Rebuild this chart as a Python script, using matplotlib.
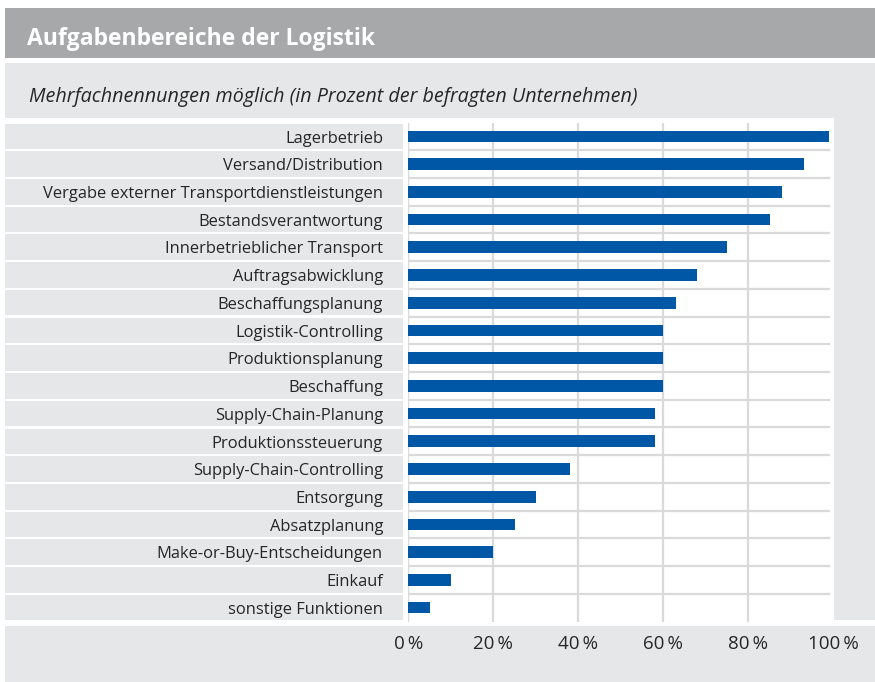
import matplotlib
matplotlib.use("Agg")
import matplotlib.pyplot as plt
import matplotlib.transforms as mtransforms
from matplotlib.patches import Rectangle

categories = ["Lagerbetrieb", "Versand/Distribution",
              "Vergabe externer Transportdienstleistungen", "Bestandsverantwortung",
              "Innerbetrieblicher Transport", "Auftragsabwicklung",
              "Beschaffungsplanung", "Logistik-Controlling", "Produktionsplanung",
              "Beschaffung", "Supply-Chain-Planung", "Produktionssteuerung",
              "Supply-Chain-Controlling", "Entsorgung", "Absatzplanung",
              "Make-or-Buy-Entscheidungen", "Einkauf", "sonstige Funktionen"]
values = [99, 93, 88, 85, 75, 68, 63, 60, 60, 60, 58, 58, 38, 30, 25, 20, 10, 5]
ticks = [0, 20, 40, 60, 80, 100]
tick_labels = ["0\u2009%", "20\u2009%", "40\u2009%", "60\u2009%", "80\u2009%", "100\u2009%"]

title = "Aufgabenbereiche der Logistik"
subtitle = "Mehrfachnennungen möglich (in Prozent der befragten Unternehmen)"

W, H = 875, 682
BAR = "#0057a5"
PANEL = "#e6e7e8"
HEAD = "#a7a8aa"
GRID = "#dadada"
TXT = "#262626"

plt.rcParams['font.family'] = ['Open Sans', 'DejaVu Sans']


def fx(px):
    return px / W


def fy(py):
    return 1 - py / H


fig = plt.figure(figsize=(W / 100, H / 100), dpi=100)
fig.patch.set_facecolor("white")

# header bar and grey panel (behind the axes)
bg = dict(transform=fig.transFigure, edgecolor="none", zorder=-10)
fig.add_artist(Rectangle((fx(5), fy(58)), fx(870), 50 / H, facecolor=HEAD, **bg))
fig.add_artist(Rectangle((fx(5), fy(682)), fx(870), (682 - 63) / H, facecolor=PANEL, **bg))
# white table area
fig.add_artist(Rectangle((fx(5), fy(626)), fx(829), (626 - 118) / H, facecolor="white", **bg))
fig.add_artist(Rectangle((fx(5), fy(626)), fx(870), 6 / H, facecolor="white", **bg))

fig.text(fx(27), fy(45), title, color="white", fontsize=16.5, fontweight="bold",
         ha="left", va="baseline")
fig.text(fx(29), fy(102), subtitle, color=TXT, fontsize=14.2, style="italic",
         ha="left", va="baseline")

ax = fig.add_axes([fx(408.3), fy(621.5), (833.3 - 408.3) / W, (621.5 - 122.5) / H])
ax.set_facecolor("white")
n = len(categories)
pos = list(range(n))
ax.set_xlim(0, 100)
ax.set_ylim(n - 0.5, -0.5)

for t in ticks[1:-1]:
    ax.axvline(t, color=GRID, lw=1.6, zorder=1)
ax.axvline(0, color=GRID, lw=1.0, zorder=1)
for i in range(n - 1):
    ax.axhline(i + 0.5, xmin=0, xmax=0.99, color=GRID, lw=1.6, zorder=1)

ax.barh(pos, values, height=0.42, color=BAR, zorder=3)

for s in ax.spines.values():
    s.set_visible(False)
ax.set_yticks([])
ax.set_xticks([])

# label column
blend = mtransforms.blended_transform_factory(fig.transFigure, ax.transData)
for i, lab in enumerate(categories):
    fig.add_artist(Rectangle((fx(5), i - 0.46), fx(398), 0.92, transform=blend,
                             facecolor=PANEL, edgecolor="none"))
    fig.text(fx(383), i + 0.08, lab, transform=blend, ha="right", va="center",
             fontsize=11.9, color=TXT)

# x tick labels
blendx = mtransforms.blended_transform_factory(ax.transData, fig.transFigure)
for t, lab in zip(ticks, tick_labels):
    fig.text(t, fy(649), lab, transform=blendx, ha="center", va="baseline",
             fontsize=13.5, color=TXT)

fig.savefig("out.png", dpi=100)
